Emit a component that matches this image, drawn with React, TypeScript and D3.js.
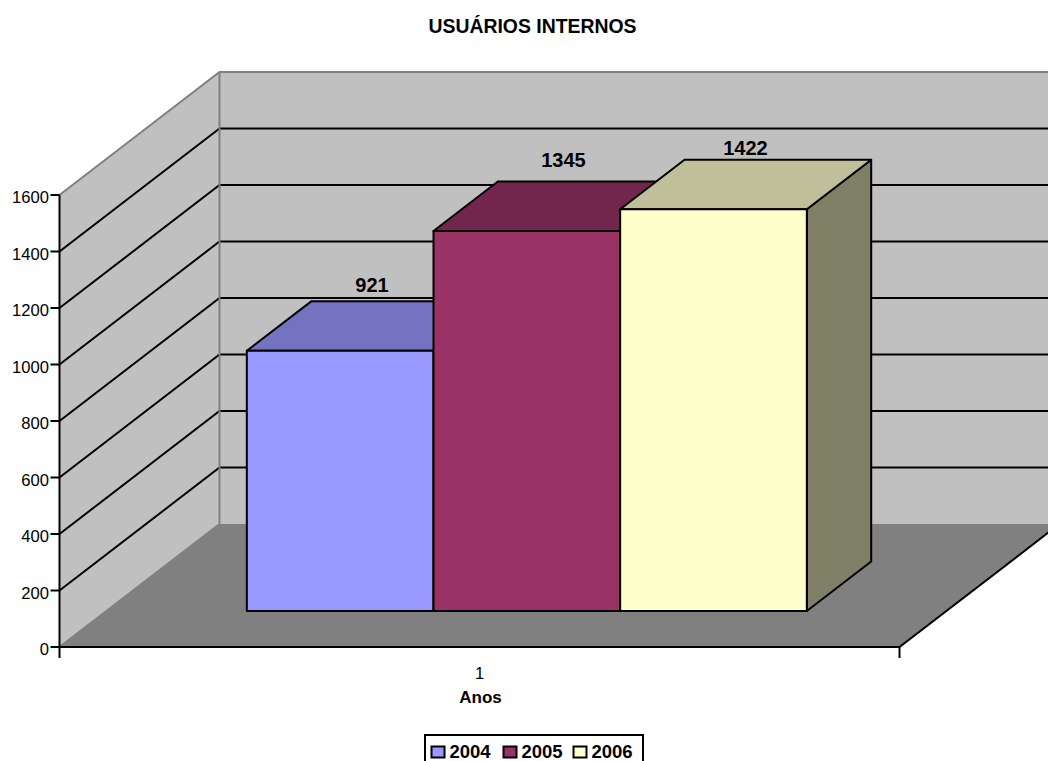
import React from "react";
import * as d3 from "d3";

const title = "USUÁRIOS INTERNOS";
const years = ["2004", "2005", "2006"];
const values = [921, 1345, 1422];
const category = "1";
const axisTitle = "Anos";
const yTicks = [0, 200, 400, 600, 800, 1000, 1200, 1400, 1600];
const frontColors = ["#9999FF", "#993366", "#FFFFCC"];
const topColors = ["#7373BF", "#73264D", "#BFBF99"];
const sideColors = ["#60607F", "#4D1A33", "#7F7F66"];

const W = 1048, H = 761;
const SW = 2;
const y = d3.scaleLinear().domain([0, 1600]).range([647, 195]);
const xOuter = d3.scaleBand().domain([category]).range([59.5, 899.5]).paddingInner(0).paddingOuter(0);
const x = d3.scaleBand().domain(years).range([200, 760]);
const depthX = d3.scaleLinear().domain([0, 1]).range([0, 160]);
const depthY = d3.scaleLinear().domain([0, 1]).range([0, 123]);
const zFront = 0.2927, zBack = 0.695;
const px = (a: number, z: number) => a + depthX(z);
const py = (v: number, z: number) => y(v) - depthY(z);
const poly = (pts: [number, number][]) => d3.line()(pts) + "Z";

export default function App() {
  const x0 = xOuter.range()[0], x1 = xOuter.range()[1];
  const top = yTicks[yTicks.length - 1];
  const font = "'Liberation Sans', Arial, sans-serif";
  const labelCenter = [372, 563.5, 745.5];
  const labelBase = [292, 167, 155];
  return (
    <svg width={W} height={H} viewBox={`0 0 ${W} ${H}`} style={{ position: "absolute", left: 0, top: 0, background: "#fff", fontFamily: font }}>
      <text x={532.5} y={33} textAnchor="middle" fontSize={19.4} fontWeight="bold">{title}</text>

      {/* back wall */}
      <path d={poly([[px(x0, 1), py(top, 1)], [W + 2, py(top, 1)], [W + 2, py(0, 1)], [px(x0, 1), py(0, 1)]])} fill="#C0C0C0" />
      {/* side wall */}
      <path d={poly([[px(x0, 0), py(top, 0)], [px(x0, 1), py(top, 1)], [px(x0, 1), py(0, 1)], [px(x0, 0), py(0, 0)]])} fill="#C0C0C0" />
      {/* floor */}
      <path d={poly([[px(x0, 0), py(0, 0)], [px(x0, 1), py(0, 1)], [px(x1 + 0, 1), py(0, 1)], [px(x1, 0), py(0, 0)]])} fill="#808080" />

      {/* gridlines */}
      {yTicks.slice(1, -1).map((t) => (
        <path key={t} d={`M${px(x0, 0)},${py(t, 0)}L${px(x0, 1)},${py(t, 1)}H${W + 2}`} fill="none" stroke="#000" strokeWidth={SW} />
      ))}
      <path d={`M${px(x0, 0)},${py(top, 0)}L${px(x0, 1)},${py(top, 1)}H${W + 2}`} fill="none" stroke="#808080" strokeWidth={SW} />
      <path d={`M${px(x0, 1)},${py(top, 1)}V${py(0, 1)}L${px(x0, 0)},${py(0, 0)}`} fill="none" stroke="#808080" strokeWidth={SW} />

      {/* floor edges */}
      <path d={`M${px(x0, 0)},${py(0, 0)}H${px(x1, 0)}L${px(x1, 1)},${py(0, 1)}`} fill="none" stroke="#000" strokeWidth={SW} />

      {/* y axis */}
      <path d={`M${x0},${py(top, 0)}V${py(0, 0)}`} stroke="#000" strokeWidth={SW} />
      {yTicks.map((t) => (
        <g key={t}>
          <path d={`M${x0 - 9},${py(t, 0)}H${x0}`} stroke="#000" strokeWidth={SW} />
          <text x={49} y={py(t, 0) + 8} textAnchor="end" fontSize={16.6}>{t}</text>
        </g>
      ))}
      <path d={`M${x0},${py(0, 0)}v11M${x1},${py(0, 0)}v11`} stroke="#000" strokeWidth={SW} />

      {/* bars */}
      {years.map((yr, i) => {
        const a = x(yr)!, b = a + x.bandwidth(), v = values[i];
        return (
          <g key={yr} stroke="#000" strokeWidth={SW} strokeLinejoin="round">
            <path d={poly([[px(b, zFront), py(v, zFront)], [px(b, zBack), py(v, zBack)], [px(b, zBack), py(0, zBack)], [px(b, zFront), py(0, zFront)]])} fill={sideColors[i]} />
            <path d={poly([[px(a, zFront), py(v, zFront)], [px(a, zBack), py(v, zBack)], [px(b, zBack), py(v, zBack)], [px(b, zFront), py(v, zFront)]])} fill={topColors[i]} />
            <path d={poly([[px(a, zFront), py(v, zFront)], [px(b, zFront), py(v, zFront)], [px(b, zFront), py(0, zFront)], [px(a, zFront), py(0, zFront)]])} fill={frontColors[i]} />
          </g>
        );
      })}
      {years.map((yr, i) => (
        <text key={yr} x={labelCenter[i]} y={labelBase[i]} textAnchor="middle" fontSize={20} fontWeight="bold">{values[i]}</text>
      ))}

      <text x={479.5} y={679} textAnchor="middle" fontSize={16.6}>{category}</text>
      <text x={480.5} y={703} textAnchor="middle" fontSize={17} fontWeight="bold">{axisTitle}</text>

      {/* legend */}
      <rect x={425} y={735} width={218} height={40} fill="#fff" stroke="#000" strokeWidth={SW} />
      {years.map((yr, i) => {
        const lx = [431.5, 503.5, 573.5][i];
        return (
          <g key={yr}>
            <rect x={lx} y={746.5} width={13} height={11} fill={frontColors[i]} stroke="#000" strokeWidth={SW} />
            <text x={lx + 18} y={758} fontSize={18.5} fontWeight="bold">{yr}</text>
          </g>
        );
      })}
    </svg>
  );
}
